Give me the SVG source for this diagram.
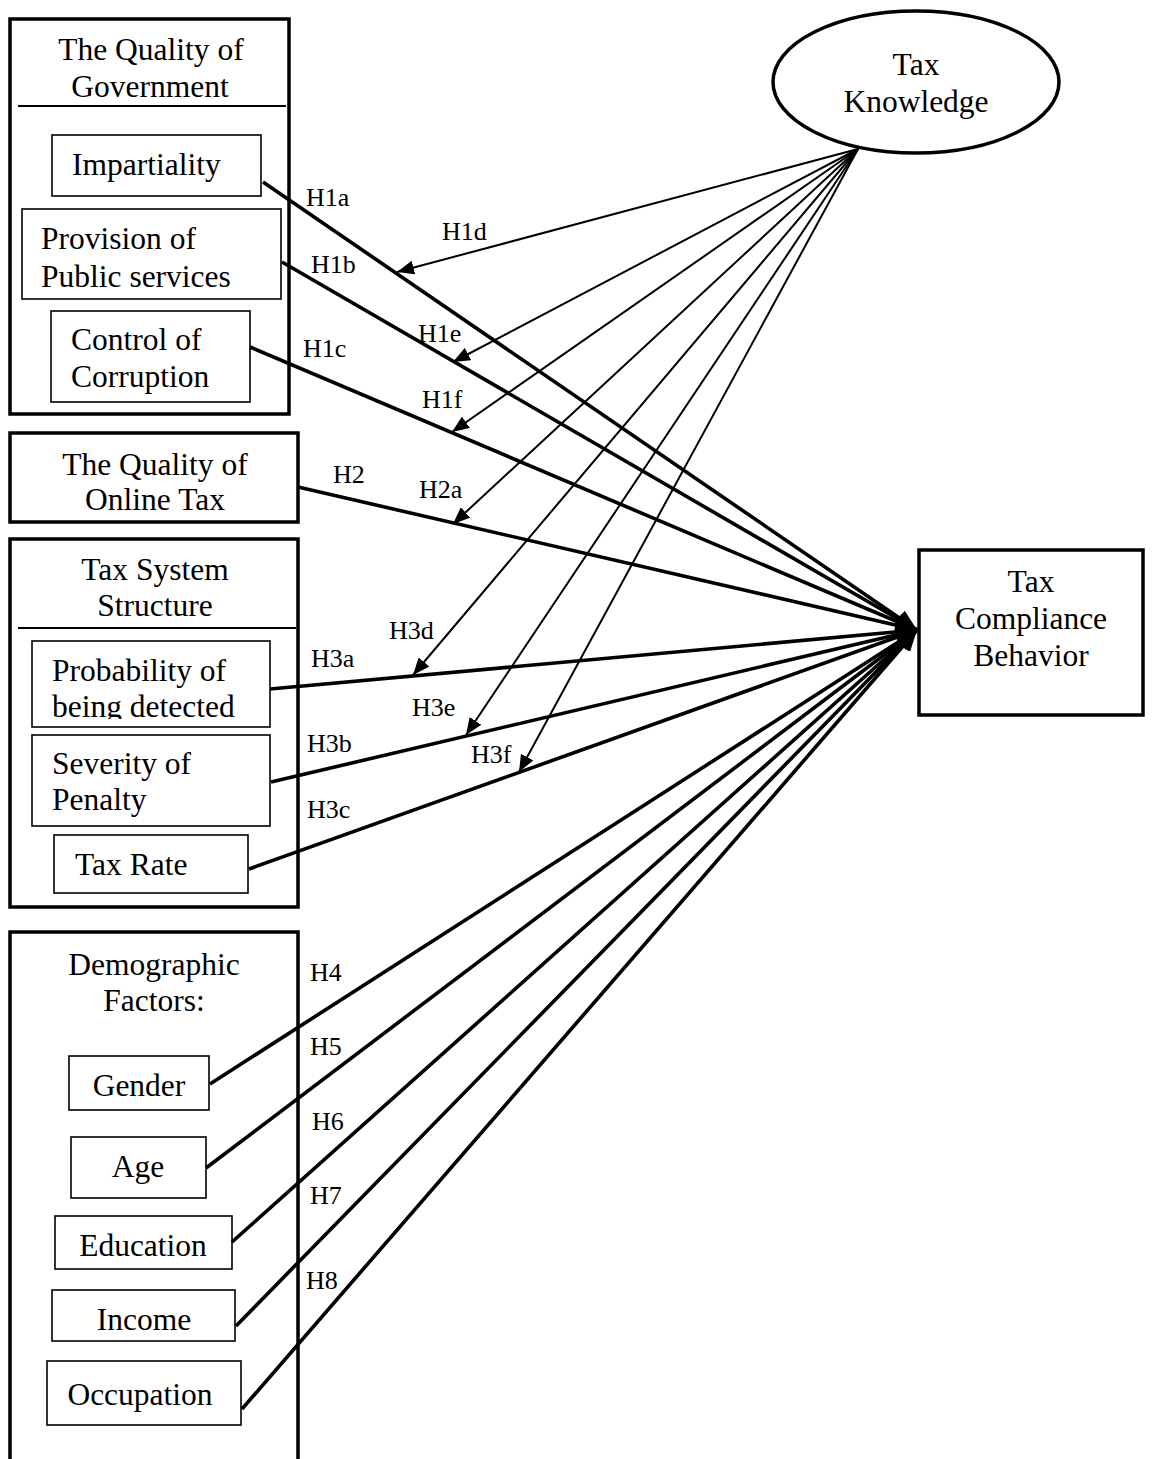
<svg xmlns="http://www.w3.org/2000/svg" width="1152" height="1459" viewBox="0 0 1152 1459">
  <style>
    .t { font-family: "Liberation Serif", "Times New Roman", serif; font-size: 31.5px; fill: #000; }
    .c { text-anchor: middle; }
    .h { font-family: "Liberation Serif", "Times New Roman", serif; font-size: 26px; fill: #000; }
    .outer { fill: none; stroke: #000; stroke-width: 3.5; }
    .inner { fill: #fff; stroke: #000; stroke-width: 1.6; }
    .div { stroke: #000; stroke-width: 2; }
    .thick { stroke: #000; stroke-width: 3.6; fill: none; }
    .thin { stroke: #000; stroke-width: 2; fill: none; }
  </style>
  <defs>
    <marker id="ah-thick" markerUnits="userSpaceOnUse" markerWidth="22" markerHeight="18" refX="21" refY="9" orient="auto">
      <path d="M0,0 L21,9 L0,18 z" fill="#000"/>
    </marker>
    <marker id="ah-thin" markerUnits="userSpaceOnUse" markerWidth="18" markerHeight="14" refX="17" refY="7" orient="auto">
      <path d="M0,0 L17,7 L0,14 z" fill="#000"/>
    </marker>
    <clipPath id="clip-prob">
      <rect x="32" y="641" width="238" height="78"/>
    </clipPath>
  </defs>

  <rect width="1152" height="1459" fill="#fff"/>

  <!-- The Quality of Government -->
  <g id="quality-government">
    <rect class="outer" x="10" y="19" width="279" height="395"/>
    <text class="t c" x="151" y="60">The Quality of</text>
    <text class="t c" x="150" y="97">Government</text>
    <line class="div" x1="18" y1="106" x2="286" y2="106"/>
  </g>
  <g id="impartiality">
    <rect class="inner" x="52" y="135" width="209" height="61"/>
    <text class="t" x="72" y="175">Impartiality</text>
  </g>
  <g id="public-services">
    <rect class="inner" x="22" y="209" width="259" height="90"/>
    <text class="t" x="41" y="249">Provision of</text>
    <text class="t" x="41" y="287">Public services</text>
  </g>
  <g id="corruption">
    <rect class="inner" x="51" y="311" width="199" height="91"/>
    <text class="t" x="71" y="350">Control of</text>
    <text class="t" x="71" y="387">Corruption</text>
  </g>

  <!-- The Quality of Online Tax -->
  <g id="online-tax">
    <rect class="outer" x="10" y="433" width="288" height="89"/>
    <text class="t c" x="155" y="475">The Quality of</text>
    <text class="t c" x="155" y="510">Online Tax</text>
  </g>

  <!-- Tax System Structure -->
  <g id="tax-system">
    <rect class="outer" x="10" y="539" width="288" height="368"/>
    <text class="t c" x="155" y="580">Tax System</text>
    <text class="t c" x="155" y="616">Structure</text>
    <line class="div" x1="18" y1="628" x2="296" y2="628"/>
  </g>
  <g id="detection">
    <rect class="inner" x="32" y="641" width="238" height="86"/>
    <g clip-path="url(#clip-prob)">
      <text class="t" x="52" y="681">Probability of</text>
      <text class="t" x="52" y="717">being detected</text>
    </g>
  </g>
  <g id="penalty">
    <rect class="inner" x="32" y="735" width="238" height="91"/>
    <text class="t" x="52" y="774">Severity of</text>
    <text class="t" x="52" y="810">Penalty</text>
  </g>
  <g id="tax-rate">
    <rect class="inner" x="54" y="835" width="194" height="58"/>
    <text class="t" x="75" y="875">Tax Rate</text>
  </g>

  <!-- Demographic Factors (box runs past the page bottom) -->
  <g id="demographic">
    <path class="outer" d="M10,1462 L10,932 L298,932 L298,1462"/>
    <text class="t c" x="154" y="975">Demographic</text>
    <text class="t c" x="154" y="1011">Factors:</text>
  </g>
  <g id="gender">
    <rect class="inner" x="69" y="1056" width="140" height="54"/>
    <text class="t c" x="139" y="1096">Gender</text>
  </g>
  <g id="age">
    <rect class="inner" x="71" y="1137" width="135" height="61"/>
    <text class="t c" x="138" y="1177">Age</text>
  </g>
  <g id="education">
    <rect class="inner" x="55" y="1216" width="177" height="53"/>
    <text class="t c" x="143" y="1256">Education</text>
  </g>
  <g id="income">
    <rect class="inner" x="52" y="1290" width="183" height="51"/>
    <text class="t c" x="144" y="1330">Income</text>
  </g>
  <g id="occupation">
    <rect class="inner" x="47" y="1361" width="194" height="64"/>
    <text class="t c" x="140" y="1405">Occupation</text>
  </g>

  <!-- Tax Knowledge (moderator) -->
  <g id="tax-knowledge">
    <ellipse cx="916" cy="82" rx="143" ry="71" fill="#fff" stroke="#000" stroke-width="3.5"/>
    <text class="t c" x="916" y="75">Tax</text>
    <text class="t c" x="916" y="112">Knowledge</text>
  </g>

  <!-- Tax Compliance Behavior (outcome) -->
  <g id="tax-compliance">
    <rect class="outer" x="919" y="550" width="224" height="165"/>
    <text class="t c" x="1031" y="592">Tax</text>
    <text class="t c" x="1031" y="629">Compliance</text>
    <text class="t c" x="1031" y="666">Behavior</text>
  </g>

  <!-- Connectors -->
  <g id="connectors">
    <!-- direct effects -->
    <line class="thick" x1="263" y1="182" x2="917" y2="630" marker-end="url(#ah-thick)"/>
    <line class="thick" x1="282" y1="262" x2="917" y2="630" marker-end="url(#ah-thick)"/>
    <line class="thick" x1="250" y1="347" x2="917" y2="630" marker-end="url(#ah-thick)"/>
    <line class="thick" x1="298" y1="487" x2="917" y2="630" marker-end="url(#ah-thick)"/>
    <line class="thick" x1="270" y1="689" x2="917" y2="630" marker-end="url(#ah-thick)"/>
    <line class="thick" x1="271" y1="782" x2="917" y2="630" marker-end="url(#ah-thick)"/>
    <line class="thick" x1="249" y1="869" x2="917" y2="630" marker-end="url(#ah-thick)"/>
    <line class="thick" x1="210" y1="1084" x2="917" y2="630" marker-end="url(#ah-thick)"/>
    <line class="thick" x1="206" y1="1168" x2="917" y2="630" marker-end="url(#ah-thick)"/>
    <line class="thick" x1="232" y1="1242" x2="917" y2="630" marker-end="url(#ah-thick)"/>
    <line class="thick" x1="236" y1="1326" x2="917" y2="630" marker-end="url(#ah-thick)"/>
    <line class="thick" x1="242" y1="1409" x2="917" y2="630" marker-end="url(#ah-thick)"/>
    <!-- moderating effects -->
    <line class="thin" x1="858" y1="149" x2="397" y2="272" marker-end="url(#ah-thin)"/>
    <line class="thin" x1="858" y1="149" x2="453" y2="362" marker-end="url(#ah-thin)"/>
    <line class="thin" x1="858" y1="149" x2="452" y2="432" marker-end="url(#ah-thin)"/>
    <line class="thin" x1="858" y1="149" x2="453" y2="524" marker-end="url(#ah-thin)"/>
    <line class="thin" x1="858" y1="149" x2="413" y2="675" marker-end="url(#ah-thin)"/>
    <line class="thin" x1="858" y1="149" x2="466" y2="735" marker-end="url(#ah-thin)"/>
    <line class="thin" x1="858" y1="149" x2="519" y2="772" marker-end="url(#ah-thin)"/>
    <!-- hypothesis labels -->
    <text class="h" x="306" y="206">H1a</text>
    <text class="h" x="442" y="240">H1d</text>
    <text class="h" x="311" y="273">H1b</text>
    <text class="h" x="418" y="342">H1e</text>
    <text class="h" x="303" y="357">H1c</text>
    <text class="h" x="422" y="408">H1f</text>
    <text class="h" x="333" y="483">H2</text>
    <text class="h" x="419" y="498">H2a</text>
    <text class="h" x="389" y="639">H3d</text>
    <text class="h" x="311" y="667">H3a</text>
    <text class="h" x="412" y="716">H3e</text>
    <text class="h" x="307" y="752">H3b</text>
    <text class="h" x="471" y="763">H3f</text>
    <text class="h" x="307" y="818">H3c</text>
    <text class="h" x="310" y="981">H4</text>
    <text class="h" x="310" y="1055">H5</text>
    <text class="h" x="312" y="1130">H6</text>
    <text class="h" x="310" y="1204">H7</text>
    <text class="h" x="306" y="1289">H8</text>
  </g>
</svg>
